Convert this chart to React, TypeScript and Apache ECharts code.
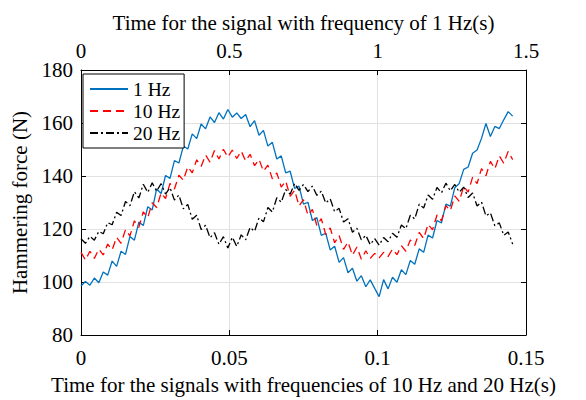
import React, { useEffect, useRef } from "react";
import * as echarts from "echarts";

const STEP_1HZ = 0.015; // s, top axis
const STEP_FAST = 0.0015; // s, bottom axis

const force1Hz = [
  98.5, 100.2, 98.8, 101.5, 99.7, 103.8, 102.6, 107.9, 105.9, 111.6,
  110.4, 117.2, 115.8, 122.6, 121.3, 128.4, 127.2, 135.1, 133.4, 140.2,
  139.1, 145.8, 144.9, 151.3, 150.2, 155.9, 154.1, 159.6, 157.8, 162.3,
  160.2, 163.9, 161.5, 165.1, 162.2, 163.8, 161.7, 163.2, 158.6, 160.9,
  155.4, 157.2, 151.3, 152.7, 146.4, 147.6, 141.2, 141.8, 135.3, 136.2,
  129.4, 130.1, 123.2, 124.3, 117.6, 118.4, 112.1, 113.5, 107.4, 109.2,
  103.5, 105.2, 100.3, 102.4, 98.2, 100.8, 97.6, 94.5, 100.9, 97.4,
  101.8, 99.9, 104.6, 102.8, 108.1, 106.7, 112.5, 111.2, 117.7, 116.6,
  123.2, 122.3, 129.4, 128.6, 135.6, 137.2, 142.5, 143.4, 148.6, 149.8,
  154.2, 159.8, 154.9, 158.7, 157.9, 161.2, 164.3, 162.6,
];

const force10Hz = [
  111.2, 108.3, 111.6, 108.9, 112.4, 110.2, 114.3, 112.1, 116.9, 114.6,
  119.8, 117.4, 123.1, 120.6, 126.5, 124.3, 129.9, 128.1, 133.6, 131.5,
  137.2, 135.1, 140.3, 138.4, 143.5, 141.2, 146.1, 143.6, 147.9, 145.2,
  149.6, 146.4, 150.1, 147.1, 149.8, 146.6, 149.4, 145.7, 148.2, 143.9,
  146.3, 141.8, 144.1, 138.9, 141.2, 135.8, 138.1, 132.3, 134.6, 128.7,
  131.1, 125.2, 127.4, 121.3, 123.9, 117.9, 120.4, 114.8, 117.6, 112.3,
  115.1, 110.1, 113.2, 108.6, 111.8, 108.9, 110.8, 109.1, 111.2, 109.6,
  112.4, 110.3, 113.7, 111.6, 115.9, 113.8, 118.7, 116.4, 121.8, 119.7,
  125.3, 123.1, 128.8, 126.9, 132.5, 130.4, 136.1, 133.9, 139.6, 137.1,
  142.8, 140.1, 145.5, 142.7, 147.6, 144.8, 149.3, 146.2,
];

const force20Hz = [
  116.3, 114.6, 117.2, 115.8, 119.1, 118.2, 122.4, 121.6, 126.3, 125.1,
  130.4, 128.8, 134.1, 131.7, 136.9, 133.8, 137.4, 134.3, 137.1, 133.2,
  135.6, 130.9, 132.8, 127.6, 129.3, 123.7, 125.2, 119.8, 121.4, 116.7,
  118.6, 114.2, 117.1, 112.8, 116.9, 113.4, 117.8, 115.9, 120.6, 119.1,
  124.2, 122.7, 128.1, 126.4, 131.8, 130.1, 134.9, 133.1, 137.2, 134.6,
  136.8, 134.1, 136.2, 132.7, 134.3, 129.8, 131.4, 126.5, 127.8, 122.6,
  123.9, 118.8, 120.3, 115.9, 117.6, 114.1, 116.4, 113.9, 116.8, 115.2,
  118.4, 116.9, 121.5, 120.1, 125.2, 123.8, 129.4, 127.9, 132.8, 131.2,
  135.7, 133.6, 137.3, 134.4, 136.8, 133.9, 135.8, 131.9, 133.6, 128.7,
  130.2, 124.9, 126.1, 121.2, 122.3, 117.6, 118.9, 114.3,
];

const seriesNames = ["1 Hz", "10 Hz", "20 Hz"];
const yTicks = { min: 80, max: 180, interval: 20 };

const FONT = "'Liberation Serif', 'Times New Roman', serif";

function pairs(values: number[], step: number) {
  return values.map((v, i) => [+(i * step).toFixed(5), v]);
}

export default function App() {
  const ref = useRef<HTMLDivElement>(null);
  useEffect(() => {
    document.body.style.margin = "0";
    const chart = echarts.init(ref.current!, null, { renderer: "svg" });
    const axisText = { color: "#000", fontFamily: FONT, fontSize: 21 };
    const nameText = { color: "#000", fontFamily: FONT, fontSize: 21 };
    chart.setOption({
      animation: false,
      backgroundColor: "#fff",
      grid: { left: 81, right: 60, top: 70, bottom: 65, containLabel: false },
      legend: {
        show: true,
        left: 83,
        top: 74,
        orient: "vertical",
        backgroundColor: "#fff",
        borderColor: "#000",
        borderWidth: 1,
        borderRadius: 0,
        padding: [5, 4, 5, 6],
        itemWidth: 38,
        itemHeight: 14,
        itemGap: 2,
        itemStyle: { opacity: 0 },
        textStyle: { color: "#000", fontFamily: FONT, fontSize: 19.5, lineHeight: 20 },
        data: seriesNames,
      },
      xAxis: [
        {
          type: "value",
          position: "bottom",
          min: 0,
          max: 0.15,
          interval: 0.05,
          name: "Time for the signals with frequencies of 10 Hz and 20 Hz(s)",
          nameLocation: "middle",
          nameGap: 39,
          nameTextStyle: nameText,
          axisLine: { show: true, onZero: false, lineStyle: { color: "#000", width: 1 } },
          axisTick: { show: true, inside: true, length: 5, lineStyle: { color: "#000" } },
          axisLabel: { ...axisText, margin: 12, formatter: (v: number) => String(+v.toFixed(3)) },
          splitLine: { show: true, lineStyle: { color: "#e2e2e2", width: 1 } },
        },
        {
          type: "value",
          position: "top",
          min: 0,
          max: 1.5,
          interval: 0.5,
          name: "Time for the signal with frequency of 1 Hz(s)",
          nameLocation: "middle",
          nameGap: 37,
          nameTextStyle: nameText,
          axisLine: { show: true, onZero: false, lineStyle: { color: "#000", width: 1 } },
          axisTick: { show: true, inside: true, length: 5, lineStyle: { color: "#000" } },
          axisLabel: { ...axisText, margin: 9, formatter: (v: number) => String(+v.toFixed(2)) },
          splitLine: { show: false },
        },
      ],
      yAxis: [
        {
          type: "value",
          position: "left",
          min: yTicks.min,
          max: yTicks.max,
          interval: yTicks.interval,
          name: "Hammering force (N)",
          nameLocation: "middle",
          nameGap: 45,
          nameTextStyle: nameText,
          axisLine: { show: true, onZero: false, lineStyle: { color: "#000", width: 1 } },
          axisTick: { show: true, inside: true, length: 5, lineStyle: { color: "#000" } },
          axisLabel: { ...axisText, margin: 8 },
          splitLine: { show: true, lineStyle: { color: "#e2e2e2", width: 1 } },
        },
        {
          type: "value",
          position: "right",
          min: yTicks.min,
          max: yTicks.max,
          interval: yTicks.interval,
          axisLine: { show: true, onZero: false, lineStyle: { color: "#000", width: 1 } },
          axisTick: { show: true, inside: true, length: 5, lineStyle: { color: "#000" } },
          axisLabel: { show: false },
          splitLine: { show: false },
        },
      ],
      series: [
        {
          name: seriesNames[0],
          type: "line",
          xAxisIndex: 1,
          yAxisIndex: 0,
          showSymbol: false,
          symbol: "none",
          lineStyle: { color: "#0072BD", width: 1.3, type: "solid" },
          itemStyle: { color: "#0072BD" },
          data: pairs(force1Hz, STEP_1HZ),
        },
        {
          name: seriesNames[1],
          type: "line",
          xAxisIndex: 0,
          yAxisIndex: 0,
          showSymbol: false,
          symbol: "none",
          lineStyle: { color: "#FF0000", width: 1.3, type: [8, 5] },
          itemStyle: { color: "#FF0000" },
          data: pairs(force10Hz, STEP_FAST),
        },
        {
          name: seriesNames[2],
          type: "line",
          xAxisIndex: 0,
          yAxisIndex: 0,
          showSymbol: false,
          symbol: "none",
          lineStyle: { color: "#000000", width: 1.3, type: [8, 3, 2, 3] },
          itemStyle: { color: "#000000" },
          data: pairs(force20Hz, STEP_FAST),
        },
      ],
    });
    return () => chart.dispose();
  }, []);
  return <div ref={ref} style={{ width: 586, height: 400 }} />;
}
